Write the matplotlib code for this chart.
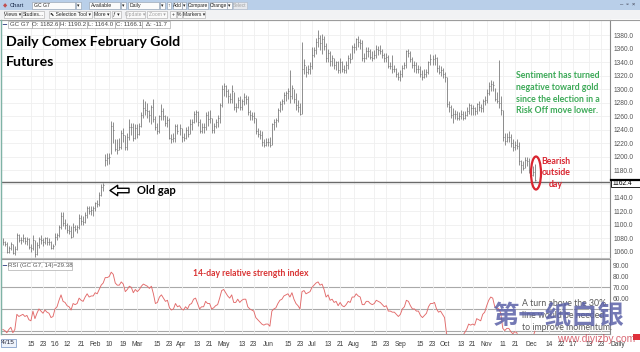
import numpy as np
import pandas as pd
import matplotlib
matplotlib.use('Agg')
import matplotlib.pyplot as plt
from matplotlib.patches import Ellipse, Rectangle

plt.rcParams['font.family'] = ['Liberation Sans', 'DejaVu Sans']

# trading days of the Feb 2017 gold contract (exchange holidays dropped)
holidays = ['2015-12-25', '2016-01-01', '2016-03-25', '2016-12-26', '2017-01-02']
days = pd.bdate_range('2015-11-25', '2017-02-10')
days = days[~days.isin(pd.to_datetime(holidays))]

closes = [1074, 1072, 1060, 1066, 1071, 1058, 1064, 1084, 1077, 1078,
          1080, 1076, 1079, 1067, 1066, 1078, 1056, 1070, 1079, 1077,
          1074, 1080, 1075, 1074, 1066, 1068, 1082, 1084, 1096, 1112,
          1102, 1100, 1092, 1090, 1082, 1096, 1094, 1096, 1110, 1106,
          1104, 1114, 1124, 1120, 1122, 1124, 1132, 1131, 1144, 1156,
          1158, 1196, 1198, 1200, 1245, 1240, 1212, 1210, 1214, 1236,
          1232, 1214, 1230, 1244, 1244, 1228, 1242, 1234, 1246, 1262,
          1272, 1270, 1268, 1262, 1274, 1256, 1244, 1238, 1260, 1268,
          1260, 1250, 1254, 1228, 1226, 1228, 1246, 1238, 1242, 1230,
          1228, 1240, 1234, 1248, 1252, 1264, 1266, 1252, 1238, 1244,
          1244, 1262, 1256, 1258, 1240, 1246, 1252, 1258, 1276, 1300,
          1304, 1298, 1290, 1286, 1298, 1274, 1274, 1284, 1274, 1282,
          1288, 1286, 1266, 1262, 1260, 1258, 1238, 1234, 1232, 1222,
          1218, 1222, 1222, 1218, 1248, 1252, 1254, 1270, 1278, 1282,
          1292, 1294, 1298, 1290, 1302, 1286, 1276, 1274, 1264, 1330,
          1336, 1326, 1330, 1334, 1350, 1358, 1370, 1376, 1368, 1374,
          1364, 1346, 1354, 1342, 1346, 1336, 1340, 1328, 1340, 1330,
          1328, 1336, 1346, 1344, 1362, 1362, 1374, 1370, 1368, 1346,
          1346, 1356, 1356, 1348, 1346, 1350, 1360, 1358, 1356, 1350,
          1346, 1348, 1334, 1334, 1330, 1330, 1322, 1318, 1322, 1332,
          1336, 1356, 1354, 1344, 1336, 1336, 1330, 1330, 1322, 1318,
          1322, 1326, 1340, 1344, 1344, 1346, 1332, 1326, 1328, 1322,
          1318, 1278, 1274, 1262, 1264, 1264, 1258, 1260, 1264, 1258,
          1262, 1268, 1276, 1272, 1272, 1268, 1278, 1274, 1272, 1282,
          1284, 1294, 1304, 1308, 1306, 1286, 1282, 1280, 1270, 1230,
          1224, 1230, 1230, 1220, 1214, 1218, 1216, 1194, 1188, 1184,
          1196, 1194, 1180, 1174, 1178, 1166.1]

highs = [1080, 1076, 1074, 1068, 1075, 1072, 1068, 1088, 1086, 1082,
         1086, 1082, 1082, 1080, 1072, 1084, 1078, 1074, 1082, 1084,
         1080, 1082, 1082, 1080, 1076, 1072, 1088, 1088, 1100, 1118,
         1118, 1108, 1102, 1100, 1098, 1102, 1100, 1100, 1116, 1114,
         1112, 1118, 1128, 1128, 1128, 1128, 1134, 1136, 1148, 1160,
         1162, 1204, 1206, 1206, 1253, 1252, 1226, 1226, 1228, 1240,
         1242, 1232, 1236, 1256, 1250, 1250, 1248, 1248, 1250, 1266,
         1285, 1282, 1280, 1270, 1276, 1285, 1260, 1250, 1262, 1278,
         1272, 1262, 1260, 1258, 1234, 1236, 1248, 1248, 1248, 1242,
         1236, 1244, 1246, 1256, 1256, 1268, 1270, 1268, 1256, 1250,
         1250, 1266, 1268, 1270, 1258, 1250, 1256, 1262, 1280, 1306,
         1309, 1306, 1300, 1294, 1306, 1296, 1280, 1288, 1290, 1286,
         1294, 1292, 1290, 1270, 1266, 1266, 1258, 1242, 1240, 1238,
         1226, 1228, 1228, 1230, 1250, 1256, 1258, 1272, 1282, 1286,
         1296, 1298, 1302, 1329, 1306, 1300, 1294, 1284, 1280, 1370,
         1344, 1334, 1336, 1340, 1362, 1362, 1376, 1387, 1380, 1382,
         1378, 1368, 1360, 1356, 1350, 1346, 1342, 1342, 1346, 1342,
         1336, 1342, 1350, 1354, 1366, 1368, 1376, 1378, 1374, 1372,
         1354, 1362, 1362, 1360, 1356, 1358, 1366, 1364, 1366, 1360,
         1354, 1354, 1350, 1340, 1350, 1336, 1332, 1326, 1328, 1336,
         1340, 1358, 1360, 1356, 1348, 1342, 1340, 1336, 1334, 1328,
         1330, 1330, 1342, 1352, 1350, 1352, 1348, 1336, 1334, 1332,
         1326, 1318, 1282, 1276, 1272, 1270, 1268, 1266, 1270, 1268,
         1268, 1274, 1280, 1278, 1276, 1274, 1280, 1282, 1278, 1286,
         1290, 1300, 1310, 1314, 1312, 1302, 1296, 1343, 1290, 1270,
         1236, 1236, 1238, 1234, 1226, 1224, 1226, 1222, 1196, 1194,
         1200, 1200, 1198, 1184, 1186, 1190.2]

lows = [1070, 1068, 1058, 1058, 1062, 1056, 1055, 1062, 1074, 1072,
        1074, 1072, 1070, 1064, 1060, 1062, 1052, 1055, 1066, 1072,
        1068, 1072, 1070, 1070, 1064, 1064, 1070, 1078, 1082, 1094,
        1098, 1094, 1088, 1086, 1080, 1082, 1090, 1088, 1094, 1100,
        1100, 1102, 1110, 1116, 1114, 1112, 1120, 1126, 1128, 1142,
        1150, 1186, 1188, 1190, 1205, 1220, 1208, 1205, 1210, 1212,
        1222, 1210, 1210, 1225, 1232, 1224, 1226, 1228, 1232, 1244,
        1258, 1262, 1258, 1252, 1248, 1252, 1240, 1234, 1236, 1255,
        1255, 1246, 1244, 1226, 1220, 1222, 1222, 1234, 1232, 1222,
        1224, 1226, 1230, 1234, 1240, 1250, 1252, 1246, 1236, 1236,
        1236, 1240, 1246, 1250, 1236, 1236, 1242, 1244, 1250, 1274,
        1290, 1288, 1280, 1280, 1280, 1270, 1266, 1272, 1270, 1270,
        1276, 1278, 1262, 1254, 1255, 1250, 1234, 1230, 1226, 1216,
        1214, 1216, 1216, 1214, 1218, 1240, 1244, 1252, 1266, 1270,
        1278, 1282, 1286, 1280, 1286, 1280, 1270, 1266, 1262, 1264,
        1322, 1318, 1322, 1322, 1330, 1348, 1352, 1362, 1358, 1352,
        1358, 1340, 1340, 1334, 1334, 1330, 1328, 1324, 1324, 1326,
        1324, 1324, 1330, 1338, 1344, 1354, 1358, 1362, 1360, 1342,
        1340, 1344, 1348, 1344, 1342, 1344, 1346, 1350, 1352, 1346,
        1340, 1340, 1332, 1330, 1324, 1326, 1318, 1314, 1312, 1318,
        1330, 1332, 1348, 1340, 1332, 1326, 1324, 1324, 1318, 1314,
        1316, 1318, 1322, 1336, 1336, 1336, 1326, 1322, 1320, 1316,
        1310, 1274, 1266, 1258, 1250, 1256, 1254, 1254, 1256, 1254,
        1256, 1260, 1264, 1262, 1262, 1262, 1264, 1268, 1266, 1266,
        1276, 1280, 1292, 1298, 1298, 1282, 1280, 1272, 1262, 1224,
        1218, 1222, 1222, 1214, 1208, 1210, 1212, 1188, 1176, 1180,
        1184, 1186, 1176, 1168, 1172, 1164.0]

rsi = [31, 30, 28, 31, 33, 28, 31, 45, 43, 44,
       45, 43, 44, 40, 39, 48, 41, 46, 50, 48,
       46, 49, 47, 46, 42, 43, 50, 52, 58, 63,
       57, 56, 53, 52, 49, 55, 54, 55, 60, 58,
       57, 61, 64, 61, 62, 62, 65, 64, 68, 72,
       74, 79, 79, 80, 84, 82, 74, 72, 72, 75,
       73, 66, 68, 71, 70, 65, 68, 66, 68, 71,
       73, 72, 71, 69, 71, 64, 55, 56, 61, 63,
       60, 57, 58, 51, 49, 50, 55, 52, 53, 50,
       49, 52, 50, 54, 55, 59, 60, 55, 50, 52,
       52, 57, 55, 55, 50, 51, 53, 54, 60, 67,
       68, 65, 62, 60, 63, 56, 56, 59, 56, 58,
       59, 59, 52, 50, 49, 48, 42, 40, 38, 36,
       35, 36, 36, 34, 48, 50, 51, 55, 58, 59,
       62, 63, 64, 61, 65, 59, 55, 53, 50, 66,
       67, 64, 65, 66, 70, 72, 74, 75, 72, 73,
       68, 61, 63, 58, 59, 56, 57, 53, 56, 53,
       52, 54, 57, 56, 61, 61, 64, 62, 61, 54,
       54, 57, 57, 55, 54, 55, 58, 57, 56, 54,
       52, 53, 48, 48, 47, 47, 45, 43, 45, 50,
       52, 58, 57, 53, 50, 50, 48, 48, 44, 42,
       44, 46, 52, 55, 55, 56, 50, 47, 48, 45,
       42, 27, 25, 22, 24, 24, 23, 24, 26, 25,
       28, 31, 36, 35, 36, 35, 41, 40, 39, 45,
       47, 53, 58, 61, 60, 52, 51, 50, 46, 32,
       30, 32, 32, 29, 27, 29, 28, 22, 20, 20,
       26, 25, 22, 21, 24, 29.38]

tick_dates = ['2015-12-15', '2015-12-23', '2016-01-04', '2016-01-12', '2016-01-21',
              '2016-02-01', '2016-02-10', '2016-02-19', '2016-03-01', '2016-03-15',
              '2016-03-23', '2016-04-01', '2016-04-13', '2016-04-21', '2016-05-02',
              '2016-05-13', '2016-05-23', '2016-06-01', '2016-06-15', '2016-06-23',
              '2016-07-01', '2016-07-13', '2016-07-21', '2016-08-01', '2016-08-15',
              '2016-08-23', '2016-09-01', '2016-09-15', '2016-09-23', '2016-10-03',
              '2016-10-13', '2016-10-21', '2016-11-01', '2016-11-11', '2016-11-21',
              '2016-12-01', '2016-12-14', '2016-12-22', '2017-01-03', '2017-01-13',
              '2017-01-23']
tick_labels = ['15', '23', "'16", '12', '21', 'Feb', '10', '19', 'Mar', '15',
               '23', 'Apr', '13', '21', 'May', '13', '23', 'Jun', '15', '23',
               'Jul', '13', '21', 'Aug', '15', '23', 'Sep', '15', '23', 'Oct',
               '13', '21', 'Nov', '11', '21', 'Dec', '14', '22', "'17", '13', '23']

price_ticks = list(range(1060, 1400, 20))
rsi_ticks = [60, 70, 80, 90]
rsi_levels = [30, 50, 70]
gap_line = 1162.4

W, H = 640, 352


def box(l, t, r, b):
    # pixel rectangle -> figure fraction
    return [l / W, 1 - b / H, (r - l) / W, (b - t) / H]


x = np.arange(len(closes))
tick_pos = [days.get_loc(pd.Timestamp(d)) for d in tick_dates]

fig = plt.figure(figsize=(6.4, 3.52), dpi=100)
fig.patch.set_facecolor('white')

# ---- price panel (bars)
ax = fig.add_axes(box(1, 20, 610, 258))
ax.set_xlim(-0.9, 302.4)
ax.set_ylim(1050.7, 1402.2)
ax.vlines(x, lows, highs, color='#707070', lw=0.55, zorder=3)
ax.hlines(closes, x, x + 0.5, color='#707070', lw=0.55, zorder=3)
ax.axhline(gap_line, color='#6a6a6a', lw=1.0, zorder=2)
ax.set_xticks(tick_pos)
ax.set_yticks(price_ticks)
ax.set_yticklabels(['%.1f' % v for v in price_ticks])
ax.grid(True, color='#efefef', lw=0.6)
ax.yaxis.tick_right()
ax.tick_params(axis='x', length=0, labelbottom=False)
ax.tick_params(axis='y', length=0, pad=2.2, labelsize=4.8, labelcolor='#555555')
for s in ax.spines.values():
    s.set_color('#bdbdbd')
    s.set_linewidth(0.8)
ax.spines['right'].set_color('#8a8a8a')

# ---- RSI panel
ax_r = fig.add_axes(box(1, 259, 610, 334))
ax_r.set_xlim(-0.9, 302.4)
ax_r.set_ylim(26.8, 96.2)
for lv in rsi_levels:
    ax_r.axhline(lv, color='#a9a9a9', lw=0.8, zorder=1)
ax_r.plot(x, rsi, color='#e26a6a', lw=0.65, zorder=3)
ax_r.set_xticks(tick_pos)
ax_r.set_yticks(rsi_ticks)
ax_r.set_yticklabels(['%.2f' % v for v in rsi_ticks])
ax_r.grid(True, axis='x', color='#efefef', lw=0.6)
ax_r.yaxis.tick_right()
ax_r.tick_params(axis='x', length=0, labelbottom=False)
ax_r.tick_params(axis='y', length=0, pad=2.2, labelsize=4.8, labelcolor='#555555')
for s in ax_r.spines.values():
    s.set_color('#9a9a9a')
    s.set_linewidth(0.8)
ax_r.spines['right'].set_color('#8a8a8a')

# ---- date strip
ax_d = fig.add_axes(box(0, 334, 640, 352))
ax_d.set_xlim(-1.39, 317.3)
ax_d.set_ylim(0, 1)
ax_d.axis('off')
for p, lab in zip(tick_pos, tick_labels):
    ax_d.text(p, 0.42, lab, ha='center', va='center', fontsize=4.8, color='#3a3a3a')

# ---- overlay in pixel coordinates for window chrome and notes
ov = fig.add_axes([0, 0, 1, 1])
ov.set_xlim(0, W)
ov.set_ylim(H, 0)
ov.axis('off')
ov.patch.set_alpha(0)

ov.add_patch(Rectangle((0, 0), W, 10, fc='#b9cfe9', ec='none'))
ov.add_patch(Rectangle((0, 10), W, 9, fc='#f1f2f4', ec='none'))
ov.plot([0, W], [19.5, 19.5], color='#9c9c9c', lw=0.8)
ov.plot([0.6, 0.6], [20, 334], color='#7fb3a6', lw=1.0)

tool1 = [('GC G7', 32, 75), ('▾', 76, 81), ('Available', 89, 120), ('▾', 121, 126),
         ('Daily', 128, 159), ('▾', 160, 165), ('↑', 167, 171), ('Add', 173, 182),
         ('▾', 182, 186), ('Compare', 188, 208), ('Change', 210, 227), ('▾', 227, 232)]
for t, l, r in tool1:
    ov.add_patch(Rectangle((l, 1.5), r - l, 7, fc='#fbfbfb', ec='#8e9aaa', lw=0.4))
    if t in ('GC G7', 'Available', 'Daily'):
        ov.text(l + 1.5, 5.3, t, fontsize=3.7, va='center', color='#222222')
    else:
        ov.text((l + r) / 2, 5.3, t, fontsize=3.5, ha='center', va='center', color='#222222')
ov.add_patch(Rectangle((233, 1.5), 14, 7, fc='#e6e9ee', ec='#b0b8c4', lw=0.4))
ov.text(240, 5.3, 'Select', fontsize=3.4, ha='center', va='center', color='#a0a0a0')
ov.text(3, 5.3, '◆', fontsize=4, va='center', color='#c05050')
ov.text(10, 5.3, 'Chart', fontsize=4.2, va='center', color='#1a2a4a')
ov.text(635, 4.5, '–  ▫  ×', fontsize=4.2, ha='right', va='center', color='#334')

tool2 = [('Views ▾', 4, 21, '#222222'), ('Studies...', 22, 44, '#222222'),
         ('⬉ Selection Tool ▾', 49, 92, '#222222'), ('More ▾', 94, 110, '#222222'),
         ('ƒ ▾', 112, 121, '#222222'), ('Update ▾', 126, 145, '#a0a0a0'),
         ('Zoom ▾', 147, 167, '#a0a0a0'), ('+', 170, 176, '#222222'),
         ('%', 177, 182, '#222222'), ('Markers ▾', 183, 205, '#222222')]
for t, l, r, c in tool2:
    ov.add_patch(Rectangle((l, 11.3), r - l, 6.6, fc='#fafafa', ec='#a8a8a8', lw=0.4))
    ov.text((l + r) / 2, 14.8, t, fontsize=3.6, ha='center', va='center', color=c)

# legend rows
ov.text(4, 24.6, '~', fontsize=5, ha='center', va='center', color='#304080',
        weight='bold', family=['DejaVu Sans'])
head = [('GC G7', 8, 32), ('O: 1182.6', 32, 59), ('H: 1190.2', 59, 87),
        ('L: 1164.0', 87, 115), ('C: 1166.1', 115, 142), ('Δ: -11.7', 142, 170)]
for t, l, r in head:
    ov.add_patch(Rectangle((l, 21), r - l, 7, fc='white', ec='#9a9a9a', lw=0.4))
    ov.text((l + r) / 2, 24.6, t, fontsize=4.4, ha='center', va='center', color='#444444')
ov.text(4, 265.8, '~', fontsize=5, ha='center', va='center', color='#304080',
        weight='bold', family=['DejaVu Sans'])
ov.add_patch(Rectangle((8, 262), 64, 7.5, fc='white', ec='#9a9a9a', lw=0.4))
ov.text(40, 265.9, 'RSI (GC G7, 14)=29.38', fontsize=4.4, ha='center', va='center',
        color='#555555')

# current-price box on the axis
ov.add_patch(Rectangle((611, 179.5), 29, 7.5, fc='white', ec='black', lw=0.6, zorder=5))
ov.plot([611, 640], [180, 180], color='black', lw=1.6, zorder=6)
ov.text(613, 183.6, '%.1f' % gap_line, fontsize=4.8, va='center', color='black', zorder=6)

ov.text(618, 345, 'Daily', fontsize=4.8, ha='center', va='center', color='#3a3a3a')
ov.add_patch(Rectangle((0.5, 338.5), 15, 8, fc='#eef3fb', ec='#6f8fc0', lw=0.5))
ov.text(8, 342.8, "'4/15", fontsize=4.6, ha='center', va='center', color='#223')

# notes
ov.text(6, 46, 'Daily Comex February Gold', family='Lato', weight='bold',
        fontsize=10.2, color='black')
ov.text(6, 65.5, 'Futures', family='Lato', weight='bold', fontsize=10.2, color='black')
ov.text(137, 194, 'Old gap', family='Lato', weight='bold', fontsize=8, color='black')
ov.annotate('', xy=(110, 190.5), xytext=(129, 190.5),
            arrowprops=dict(arrowstyle='simple,head_length=0.55,head_width=0.75,tail_width=0.32',
                            fc='white', ec='black', lw=1.0, shrinkA=0, shrinkB=0))
green_lines = ['Sentiment has turned', 'negative toward gold',
               'since the election in a', 'Risk Off move lower.']
for k, line in enumerate(green_lines):
    ov.text(516, 78.5 + 11.6 * k, line, family='Lato', weight='bold', fontsize=6.3,
            color='#3daa58')
for k, line in enumerate(['Bearish', 'outside', 'day']):
    ov.text(556, 163.5 + 11.7 * k, line, family='Lato', weight='bold', fontsize=6.3,
            ha='center', color='#d92530')
ov.add_patch(Ellipse((536, 173), 10, 33, fc='none', ec='#d92530', lw=1.6))
ov.text(193, 275.8, '14-day relative strength index', family='Lato', weight='bold',
        fontsize=6.2, color='#d93333')
for k, line in enumerate(['A turn above the 30%', 'line would be needed',
                          'to improve momentum.']):
    ov.text(522, 306 + 12 * k, line, family='Lato', fontsize=6.3, color='#5a5a5a')

# site watermark
ov.text(558, 316, '第一纸白银', family=['Noto Sans CJK SC'], weight='bold', fontsize=19,
        ha='center', va='center', color='#5c62a8', alpha=0.85)
ov.text(596, 339, 'www.diyizby.com', fontsize=7.5, ha='center', va='center',
        color='#cc3545', alpha=0.75)
ov.add_patch(Rectangle((633, 334), 7, 6, fc='#e0303a', ec='none'))

fig.savefig('out.png', dpi=100, facecolor='white')
